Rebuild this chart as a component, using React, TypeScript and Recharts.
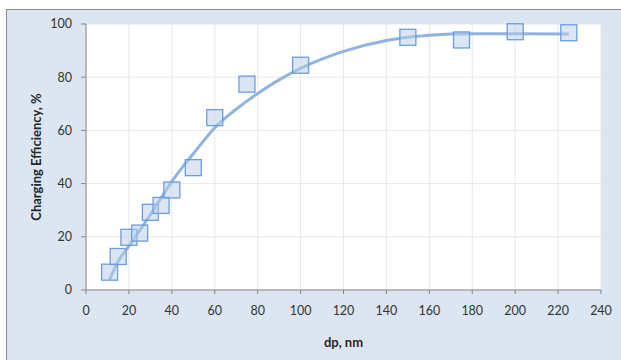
import React from 'react';
import {
  ComposedChart,
  Scatter,
  Line,
  XAxis,
  YAxis,
  CartesianGrid,
  Label,
} from 'recharts';

// measured points
const DIAMETERS = [11, 15, 20, 25, 30, 35, 40, 50, 60, 75, 100, 150, 175, 200, 225];
const EFFICIENCY = [6.7, 12.6, 19.8, 21.4, 29.2, 31.8, 37.6, 46, 64.8, 77.4, 84.5, 95, 94, 97.1, 96.7];

// fitted curve
const FIT_X = [11, 15, 20, 25, 30, 35, 40, 45, 50, 60, 75, 90, 100, 120, 140, 160, 180, 200, 225];
const FIT_Y = [4, 10.8, 16.5, 22.3, 28.3, 34.6, 40.8, 46.2, 51.2, 61, 71, 79, 83.3, 89.7, 93.8, 95.8, 96.3, 96.3, 96.2];

const X_TICKS = [0, 20, 40, 60, 80, 100, 120, 140, 160, 180, 200, 220, 240];
const Y_TICKS = [0, 20, 40, 60, 80, 100];

const points = DIAMETERS.map((x, i) => ({ x, y: EFFICIENCY[i] }));
const fit = FIT_X.map((x, i) => ({ x, y: FIT_Y[i] }));

const FONT = 'Lato, "Liberation Sans", sans-serif';
const tickStyle = { fontSize: 12.5, fill: '#333333', fontFamily: FONT };

const Square = (props: any) => {
  const { cx, cy } = props;
  if (cx == null || cy == null) return null;
  return (
    <rect
      x={cx - 8}
      y={cy - 8}
      width={16}
      height={16}
      fill="rgb(184, 205, 229)"
      fillOpacity={0.5}
      stroke="#6a9de0"
      strokeWidth={1.3}
    />
  );
};

export default function App() {
  return (
    <div style={{ position: 'absolute', left: 0, top: 0, width: 621, height: 360, background: '#fff', overflow: 'hidden' }}>
      <div
        style={{
          position: 'absolute',
          left: 6,
          top: 9,
          width: 640,
          height: 380,
          background: '#dce6f2',
          border: '1px solid #8a8a8a',
        }}
      />
      <div style={{ position: 'absolute', left: 0, top: 0 }}>
        <ComposedChart width={621} height={360} margin={{ top: 24, right: 20, bottom: 0, left: 0 }}>
          <CartesianGrid stroke="#e8e8e8" fill="#ffffff" />
          <XAxis
            type="number"
            dataKey="x"
            domain={[0, 240]}
            ticks={X_TICKS}
            height={70}
            stroke="#868686"
            tickSize={4}
            tick={tickStyle}
            tickMargin={12}
          >
            <Label
              value="dp, nm"
              position="center"
              dy={17}
              style={{ fontSize: 13, fontWeight: 'bold', fill: '#262626', fontFamily: FONT }}
            />
          </XAxis>
          <YAxis
            type="number"
            dataKey="y"
            domain={[0, 100]}
            ticks={Y_TICKS}
            width={86}
            stroke="#868686"
            tickSize={5}
            tick={tickStyle}
            tickMargin={9}
          >
            <Label
              value="Charging Efficiency, %"
              angle={-90}
              position="center"
              dx={-7}
              style={{ fontSize: 13, fontWeight: 'bold', fill: '#262626', fontFamily: FONT, textAnchor: 'middle' }}
            />
          </YAxis>
          <Line
            data={fit}
            dataKey="y"
            type="monotone"
            stroke="#8db4e3"
            strokeWidth={3}
            dot={false}
            activeDot={false}
            isAnimationActive={false}
          />
          <Scatter data={points} dataKey="y" shape={Square} isAnimationActive={false} />
        </ComposedChart>
      </div>
    </div>
  );
}
